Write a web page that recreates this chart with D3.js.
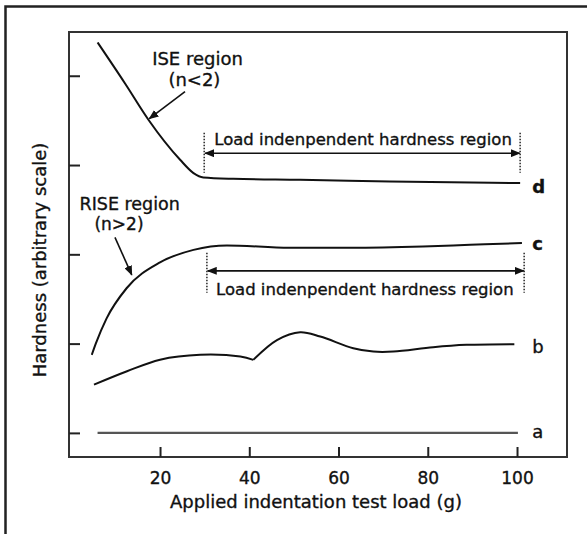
<!DOCTYPE html>
<html>
<head>
<meta charset="utf-8">
<script src="https://cdn.jsdelivr.net/npm/d3@7"></script>
<style>
  body { margin: 0; background: #fff; }
  svg text { font-family: "DejaVu Sans", Verdana, sans-serif; fill: #111; stroke: #111; stroke-width: 0.35px; }
</style>
</head>
<body>
<svg></svg>
<script>
// Canvas size
var w = 587;
var h = 534;

// Axis box in pixels
var box = { left: 69, right: 567, top: 32, bottom: 457 };

// Tick values
var xTicks = [20, 40, 60, 80, 100];
var yTicks = [0, 1, 2, 3, 4];

// Curves (load in g, hardness in arbitrary units)
var aLoad = [6, 100.2];
var aHard = [0, 0];

var bLoad = [5.2, 12.6, 20, 29, 38, 40.9, 46.2, 51.4, 55.9, 63.3, 67.8, 72.3, 81.2, 88.7, 99.4];
var bHard = [0.54, 0.69, 0.82, 0.875, 0.855, 0.818, 1.04, 1.128, 1.079, 0.949, 0.911, 0.911, 0.96, 0.986, 0.994];
var bCusp = 5; // sharp corner at 41 g

var cLoad = [4.7, 5.6, 8, 12.5, 20, 27.5, 35, 49, 62.6, 78.9, 89.5, 101.1];
var cHard = [0.874, 1.0, 1.28, 1.62, 1.91, 2.05, 2.1, 2.073, 2.073, 2.087, 2.106, 2.126];

var dLoad = [6, 12.2, 17.4, 24.5, 27.5, 29.7, 36.4, 51.4, 71.5, 100.7];
var dHard = [4.373, 3.91, 3.507, 3.059, 2.91, 2.861, 2.846, 2.835, 2.816, 2.798];

var curveNames = ["d", "c", "b", "a"];
var curveLabelY = [2.689, 2.05, 0.896, -0.056];

// Select SVG and set dimensions
var svg = d3.select("svg")
    .attr("width", w)
    .attr("height", h);

// Scales
var x = d3.scaleLinear().domain([-0.4, 111.2]).range([box.left, box.right]);
var y = d3.scaleLinear().domain([-0.27, 4.49]).range([box.bottom, box.top]);

// Outer frame (only left and top edges show)
svg.append("path")
    .attr("d", "M5.5," + h + "V6.5H" + w)
    .attr("fill", "none")
    .attr("stroke", "#222")
    .attr("stroke-width", 2.5);

// Arrow head
var defs = svg.append("defs");
defs.append("marker")
    .attr("id", "head")
    .attr("viewBox", "0 0 10 8")
    .attr("refX", 9)
    .attr("refY", 4)
    .attr("markerWidth", 10)
    .attr("markerHeight", 8)
    .attr("markerUnits", "userSpaceOnUse")
    .attr("orient", "auto-start-reverse")
    .append("path")
    .attr("d", "M0,0L10,4L0,8Z")
    .attr("fill", "#111");

// Axis box
svg.append("rect")
    .attr("x", box.left)
    .attr("y", box.top)
    .attr("width", box.right - box.left)
    .attr("height", box.bottom - box.top)
    .attr("fill", "none")
    .attr("stroke", "#333")
    .attr("stroke-width", 2);

// X axis, ticks pointing inward
var xAxis = svg.append("g")
    .attr("transform", "translate(0," + box.bottom + ")")
    .call(d3.axisBottom(x).tickValues(xTicks).tickSizeInner(-10).tickSizeOuter(0).tickPadding(15));
xAxis.select(".domain").remove();
xAxis.selectAll("line").attr("stroke", "#222").attr("stroke-width", 2);
xAxis.selectAll("text")
    .style("font-family", "DejaVu Sans, sans-serif")
    .style("font-size", "17px")
    .attr("fill", "#111");

// Y axis, unlabeled ticks
var yAxis = svg.append("g")
    .attr("transform", "translate(" + box.left + ",0)")
    .call(d3.axisLeft(y).tickValues(yTicks).tickSizeInner(-11).tickSizeOuter(0).tickFormat(""));
yAxis.select(".domain").remove();
yAxis.selectAll("line").attr("stroke", "#222").attr("stroke-width", 2);

// Axis titles
svg.append("text")
    .attr("x", 316)
    .attr("y", 508)
    .attr("text-anchor", "middle")
    .style("font-size", "18px")
    .text("Applied indentation test load (g)");

svg.append("text")
    .attr("transform", "translate(46,260) rotate(-90)")
    .attr("text-anchor", "middle")
    .style("font-size", "18px")
    .text("Hardness (arbitrary scale)");

// Line generators
var smooth = d3.line()
    .x(d => x(d[0]))
    .y(d => y(d[1]))
    .curve(d3.curveCatmullRom.alpha(0.5));

var mono = d3.line()
    .x(d => x(d[0]))
    .y(d => y(d[1]))
    .curve(d3.curveMonotoneX);

var straight = d3.line()
    .x(d => x(d[0]))
    .y(d => y(d[1]));

function pts(xs, ys) {
    return xs.map((v, i) => [v, ys[i]]);
}

// Curve a
svg.append("path")
    .attr("d", straight(pts(aLoad, aHard)))
    .attr("fill", "none")
    .attr("stroke", "#555")
    .attr("stroke-width", 2.2);

// Curve b, in two pieces so the corner stays sharp
var bPts = pts(bLoad, bHard);
[bPts.slice(0, bCusp + 1), bPts.slice(bCusp)].forEach(function (seg) {
    svg.append("path")
        .attr("d", smooth(seg))
        .attr("fill", "none")
        .attr("stroke", "#111")
        .attr("stroke-width", 2);
});

// Curves c and d
[pts(cLoad, cHard), pts(dLoad, dHard)].forEach(function (seg) {
    svg.append("path")
        .attr("d", mono(seg))
        .attr("fill", "none")
        .attr("stroke", "#111")
        .attr("stroke-width", 2);
});

// Curve labels
svg.selectAll(".curve-label")
    .data(curveNames)
    .enter().append("text")
    .attr("class", "curve-label")
    .attr("x", x(103.4))
    .attr("y", (d, i) => y(curveLabelY[i]))
    .style("font-size", "18px")
    .style("font-weight", d => (d === "d" || d === "c") ? "bold" : "normal")
    .text(d => d);

// Region annotations
function label(txt, lx, ly, size) {
    svg.append("text")
        .attr("x", x(lx))
        .attr("y", y(ly))
        .attr("text-anchor", "middle")
        .style("font-size", size + "px")
        .text(txt);
}

function arrow(x1, y1, x2, y2, both) {
    var p = svg.append("line")
        .attr("x1", x(x1)).attr("y1", y(y1))
        .attr("x2", x(x2)).attr("y2", y(y2))
        .attr("stroke", "#111")
        .attr("stroke-width", 1.6)
        .attr("marker-end", "url(#head)");
    if (both) p.attr("marker-start", "url(#head)");
}

function dotted(lx, y1, y2) {
    svg.append("line")
        .attr("x1", x(lx)).attr("x2", x(lx))
        .attr("y1", y(y1)).attr("y2", y(y2))
        .attr("stroke", "#333")
        .attr("stroke-width", 1.6)
        .attr("stroke-dasharray", "1.5,1.5");
}

label("ISE region", 28.4, 4.123, 18);
label("(n<2)", 27.7, 3.888, 18);
arrow(25.6, 3.821, 17.6, 3.52, false);

label("RISE region", 13.2, 2.493, 17.5);
label("(n>2)", 10.8, 2.269, 17);
arrow(9.9, 2.19, 13.66, 1.77, false);

// Upper load independent band
dotted(29.9, 3.361, 2.913);
dotted(100.7, 3.361, 2.913);
arrow(30.1, 3.132, 100.6, 3.132, true);
label("Load indenpendent hardness region", 65.5, 3.227, 16.5);

// Lower load independent band
dotted(30.5, 2.017, 1.569);
dotted(101.6, 2.017, 1.569);
arrow(30.7, 1.815, 101.5, 1.815, true);
label("Load indenpendent hardness region", 65.9, 1.546, 16.5);
</script>
</body>
</html>
